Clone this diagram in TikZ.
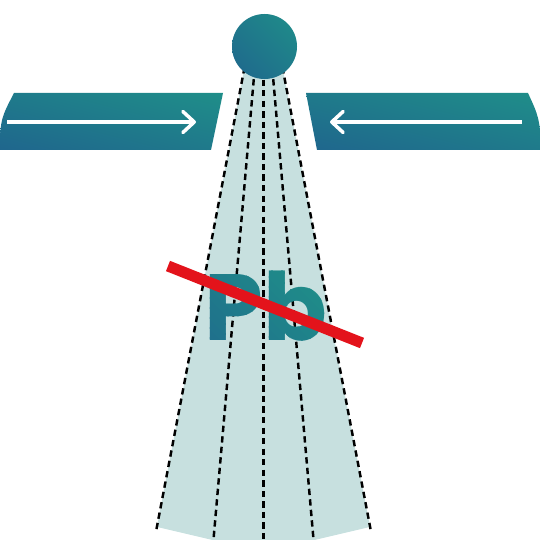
\documentclass[tikz,border=0pt]{standalone}
\usepackage{fontspec}
\newfontfamily\pbfont{Poppins}
\usetikzlibrary{arrows.meta, calc, shadings}
\definecolor{satTeal}{HTML}{1F8E89}
\definecolor{satBlue}{HTML}{1F668D}
\definecolor{satMid}{HTML}{1F7A8B}
\definecolor{beamFill}{HTML}{C7E0DF}
\definecolor{slashRed}{HTML}{E3131B}
\tikzset{
  grad/.style      = {lower left=satBlue, upper right=satTeal,
                      upper left=satMid, lower right=satMid},
  beam/.style      = {beamFill},
  beamline/.style  = {black, line width=1.4pt, dash pattern=on 3.6pt off 2.4pt},
  flowarrow/.style = {-{Straight Barb[length=6.5pt, width=12pt, round]},
                      white, line width=2pt},
  slash/.style     = {slashRed, line width=6.3pt},
  pbtext/.style    = {font=\pbfont\bfseries\fontsize{53.5}{60}\selectfont,
                      inner sep=0pt, anchor=base},
}

\begin{document}
\begin{tikzpicture}[x=0.02cm, y=-0.02cm]
  \path[use as bounding box] (0,0) rectangle (540,540);
  \clip (0,0) rectangle (540,540);

  % the beam below the satellite
  \coordinate (apex) at (263.5,-32);
  \fill[beam] ($(apex)+(100.8:80)$) -- ($(apex)+(100.8:569)$) -- (263.5,552)
    -- ($(apex)+(79.2:569)$) -- ($(apex)+(79.2:80)$) -- cycle;
  \foreach \a in {100.8,95,90,85,79.2}
    \draw[beamline] ($(apex)+(\a:80)$) -- ($(apex)+(\a:572)$);

  % solar panels
  \shade[grad] (14,93) -- (223,93) -- (211,150) -- (-1,150)
    .. controls (1,118) .. (14,93) -- cycle;
  \shade[grad] (306,93) -- (528,93) .. controls (539,117) .. (542,150)
    -- (317,150) -- cycle;

  \coordinate (inL) at (7,122);
  \coordinate (inLtip) at (196,122);
  \coordinate (inR) at (522,122);
  \coordinate (inRtip) at (330,122);
  \draw[flowarrow] (inL) -- (inLtip);
  \draw[flowarrow] (inR) -- (inRtip);

  % satellite body
  \shade[grad] (264.5,46.5) circle[radius=32.5];

  % Pb in diagonal colour strips, crossed out
  \coordinate (pb) at (266,340);
  \foreach \i in {0,...,22} {
    \pgfmathsetmacro\sa{-115+10*\i}
    \pgfmathsetmacro\pc{100*\i/22}
    \begin{scope}
      \clip ($(pb)+(\sa-100,-100)$) -- ($(pb)+(\sa+100,100)$)
        -- ($(pb)+(\sa+111,100)$) -- ($(pb)+(\sa-89,-100)$) -- cycle;
      \node[pbtext, text={satTeal!\pc!satBlue}] (pb\i) at (pb) {Pb};
    \end{scope}
  }
  \coordinate (slashA) at (168,266);
  \coordinate (slashB) at (362,343);
  \draw[slash] (slashA) -- (slashB);
\end{tikzpicture}
\end{document}
